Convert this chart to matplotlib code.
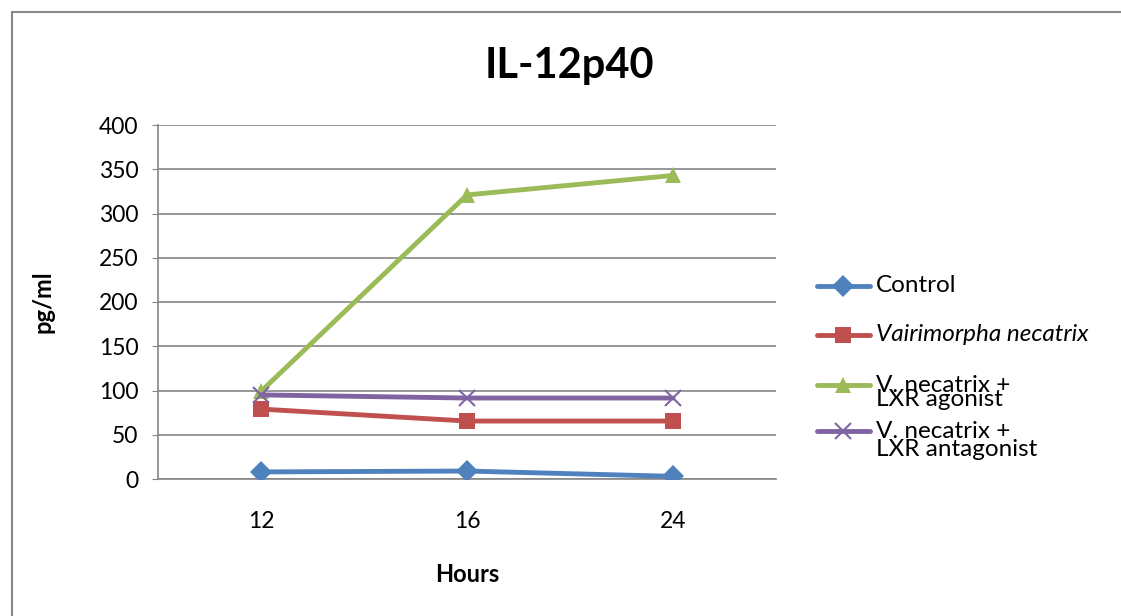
import matplotlib.pyplot as plt
from matplotlib.lines import Line2D
from matplotlib.patches import Rectangle

plt.rcParams['font.family'] = ['Lato', 'DejaVu Sans']

hours = ['12', '16', '24']
control = [8, 9, 3]
vairimorpha = [79, 65.5, 65.5]
agonist = [99, 321, 343]
antagonist = [95, 91.5, 91.5]

series = [
    (control, '#4F81BD', 'D', 11, ['Control'], 'normal'),
    (vairimorpha, '#C0504D', 's', 11, ['Vairimorpha necatrix'], 'italic'),
    (agonist, '#9BBB59', '^', 12, ['V. necatrix +', 'LXR agonist'], 'normal'),
    (antagonist, '#8064A2', 'x', 12, ['V. necatrix +', 'LXR antagonist'], 'normal'),
]

W, H = 1121, 616
fig = plt.figure(figsize=(W / 100, H / 100), dpi=100)
ax = fig.add_axes([158 / W, 1 - 479 / H, (776 - 158) / W, (479 - 125) / H])

x = range(len(hours))
for vals, col, mk, ms, lab, st in series:
    mew = 1.5 if mk == 'x' else 0
    ax.plot(x, vals, color=col, lw=3.5, marker=mk, ms=ms, mew=mew,
            mec=col, mfc=col, solid_capstyle='round', zorder=3)

ax.set_xlim(-0.5, 2.5)
ax.set_ylim(0, 400)
ax.set_yticks(range(0, 401, 50))
ax.set_xticks(list(x))
ax.set_xticklabels(hours)
ax.grid(axis='y', color='#868686', lw=1.2)
ax.set_axisbelow(True)
for s in ['top', 'right']:
    ax.spines[s].set_visible(False)
for s in ['left', 'bottom']:
    ax.spines[s].set_color('#868686')
    ax.spines[s].set_linewidth(1.2)
ax.tick_params(axis='y', length=4, color='#868686', labelsize=16.5, pad=10)
ax.tick_params(axis='x', length=0, labelsize=16.5, pad=23)
ax.set_xlabel('Hours', fontsize=17, fontweight='bold', labelpad=22)
ax.set_ylabel('pg/ml', fontsize=17, fontweight='bold', labelpad=32)

fig.text(569 / W, 1 - 66 / H, 'IL-12p40', ha='center', va='center',
         fontsize=30, fontweight='bold')

# legend drawn by hand so the two-line labels sit like the Excel layout
marker_y = [286, 335, 385, 431]
text_y = [[286], [335], [385, 399], [431, 450]]
for (vals, col, mk, ms, lab, st), my, ty in zip(series, marker_y, text_y):
    fy = 1 - my / H
    fig.add_artist(Line2D([817 / W, 870 / W], [fy, fy], color=col, lw=3.5,
                          solid_capstyle='round'))
    fig.add_artist(Line2D([843 / W], [fy], color=col, marker=mk, ms=ms,
                          mew=1.5 if mk == 'x' else 0, mec=col, mfc=col))
    for line, yy in zip(lab, ty):
        fig.text(876 / W, 1 - yy / H, line, ha='left', va='center',
                 fontsize=17.5, style=st)

# chart frame
fig.add_artist(Rectangle((12 / W, -0.1), 1.2, 1 - 12 / H + 0.1,
                         transform=fig.transFigure, fill=False,
                         edgecolor='#888888', lw=1.5))

fig.savefig('out.png', dpi=100)
